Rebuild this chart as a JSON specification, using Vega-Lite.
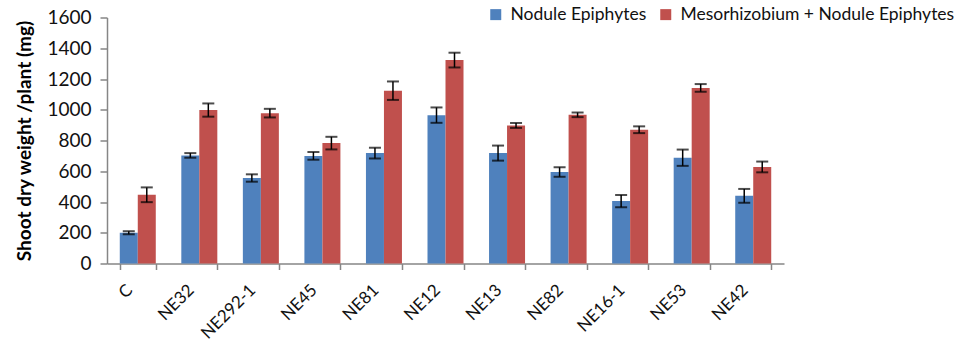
{
  "$schema": "https://vega.github.io/schema/vega-lite/v6.json",
  "width": 677,
  "height": 246,
  "autosize": {"type": "none"},
  "padding": {"left": 107, "top": 17.5, "right": 174, "bottom": 75.5},
  "background": "white",
  "config": {"view": {"stroke": null}, "font": "Lato"},
  "data": {
    "values": [
      {"strain": "C", "series": "Nodule Epiphytes", "value": 200, "err": 10},
      {"strain": "C", "series": "Mesorhizobium + Nodule Epiphytes", "value": 447, "err": 48},
      {"strain": "NE32", "series": "Nodule Epiphytes", "value": 703, "err": 15},
      {"strain": "NE32", "series": "Mesorhizobium + Nodule Epiphytes", "value": 998, "err": 43},
      {"strain": "NE292-1", "series": "Nodule Epiphytes", "value": 556, "err": 24},
      {"strain": "NE292-1", "series": "Mesorhizobium + Nodule Epiphytes", "value": 978, "err": 28},
      {"strain": "NE45", "series": "Nodule Epiphytes", "value": 700, "err": 25},
      {"strain": "NE45", "series": "Mesorhizobium + Nodule Epiphytes", "value": 783, "err": 41},
      {"strain": "NE81", "series": "Nodule Epiphytes", "value": 718, "err": 35},
      {"strain": "NE81", "series": "Mesorhizobium + Nodule Epiphytes", "value": 1124, "err": 60},
      {"strain": "NE12", "series": "Nodule Epiphytes", "value": 965, "err": 50},
      {"strain": "NE12", "series": "Mesorhizobium + Nodule Epiphytes", "value": 1323, "err": 48},
      {"strain": "NE13", "series": "Nodule Epiphytes", "value": 718, "err": 49},
      {"strain": "NE13", "series": "Mesorhizobium + Nodule Epiphytes", "value": 898, "err": 16},
      {"strain": "NE82", "series": "Nodule Epiphytes", "value": 595, "err": 31},
      {"strain": "NE82", "series": "Mesorhizobium + Nodule Epiphytes", "value": 967, "err": 15},
      {"strain": "NE16-1", "series": "Nodule Epiphytes", "value": 406, "err": 40},
      {"strain": "NE16-1", "series": "Mesorhizobium + Nodule Epiphytes", "value": 870, "err": 22},
      {"strain": "NE53", "series": "Nodule Epiphytes", "value": 688, "err": 53},
      {"strain": "NE53", "series": "Mesorhizobium + Nodule Epiphytes", "value": 1142, "err": 25},
      {"strain": "NE42", "series": "Nodule Epiphytes", "value": 440, "err": 45},
      {"strain": "NE42", "series": "Mesorhizobium + Nodule Epiphytes", "value": 628, "err": 35}
    ]
  },
  "encoding": {
    "x": {
      "field": "strain",
      "type": "nominal",
      "sort": null,
      "scale": {"paddingInner": 0.415, "paddingOuter": 0.2075},
      "axis": {
        "title": null,
        "labelAngle": -45,
        "labelAlign": "right",
        "labelBaseline": "top",
        "labelPadding": 12,
        "labelOffset": -14,
        "labelFontSize": 17,
        "labelColor": "#111111",
        "labelLimit": 300,
        "tickBand": "extent",
        "tickSize": 6,
        "tickColor": "#868686",
        "domainColor": "#868686",
        "tickWidth": 1.5,
        "domainWidth": 1.5,
        "labelFont": "Lato"
      }
    },
    "xOffset": {
      "field": "series",
      "type": "nominal",
      "sort": ["Nodule Epiphytes", "Mesorhizobium + Nodule Epiphytes"],
      "scale": {"paddingInner": 0, "paddingOuter": 0}
    },
    "y": {
      "field": "value",
      "type": "quantitative",
      "title": "Shoot dry weight /plant (mg)",
      "scale": {"domain": [0, 1600]},
      "axis": {
        "values": [0, 200, 400, 600, 800, 1000, 1200, 1400, 1600],
        "format": "d",
        "labelOverlap": false,
        "grid": false,
        "titleFont": "Lato",
        "titleFontSize": 19,
        "titleFontWeight": "bold",
        "titleColor": "#000000",
        "titlePadding": 12,
        "labelFontSize": 19,
        "labelColor": "#111111",
        "labelPadding": 9,
        "tickSize": 7,
        "tickColor": "#868686",
        "domainColor": "#868686",
        "tickWidth": 1.5,
        "domainWidth": 1.5
      }
    }
  },
  "layer": [
    {
      "mark": {"type": "bar"},
      "encoding": {
        "color": {
          "field": "series",
          "type": "nominal",
          "sort": ["Nodule Epiphytes", "Mesorhizobium + Nodule Epiphytes"],
          "scale": {"domain": ["Nodule Epiphytes", "Mesorhizobium + Nodule Epiphytes"], "range": ["#4F81BD", "#C0504D"]},
          "legend": {
            "title": null,
            "orient": "none",
            "direction": "horizontal",
            "legendX": 380,
            "legendY": -12,
            "symbolType": "square",
            "symbolSize": 121,
            "symbolStrokeWidth": 0,
            "labelFontSize": 17.5,
            "labelColor": "#111111",
            "labelFont": "Lato",
            "labelLimit": 400,
            "columnPadding": 10,
            "labelOffset": 6
          }
        }
      }
    },
    {
      "mark": {"type": "errorbar", "ticks": {"size": 12, "thickness": 2, "color": "#000000"}, "rule": {"strokeWidth": 1.5, "color": "#000000"}},
      "encoding": {
        "yError": {"field": "err"}
      }
    }
  ]
}
